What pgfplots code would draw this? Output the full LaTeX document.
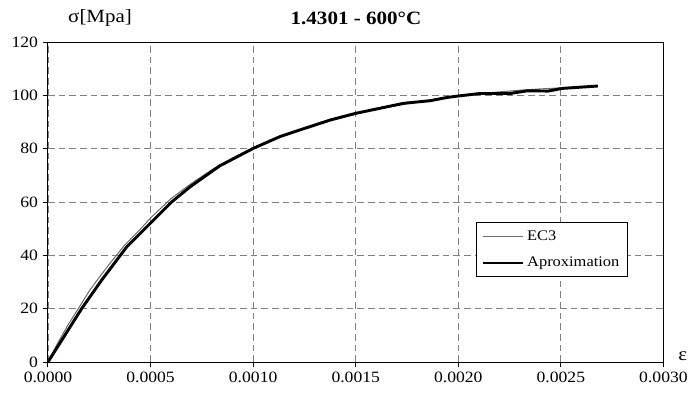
\documentclass[border=0pt]{standalone}
\usepackage{fontspec}
\setmainfont{Liberation Serif}[FakeStretch=1.12]
\usepackage{pgfplots}
\pgfplotsset{compat=1.18}
\begin{document}
\begin{tikzpicture}
\path[use as bounding box] (-36pt,-24pt) rectangle (481.5pt,271.5pt);
\begin{axis}[at={(0,0)}, anchor=south west, scale only axis,
  width=461.6pt, height=240pt,
  xmin=0, xmax=0.003, ymin=0, ymax=120,
  xtick={0,0.0005,0.001,0.0015,0.002,0.0025,0.003},
  xticklabels={0.0000,0.0005,0.0010,0.0015,0.0020,0.0025,0.0030},
  scaled x ticks=false,
  ytick={0,20,40,60,80,100,120},
  yticklabels={0,20,40,60,80,100,120},
  tick label style={font=\fontsize{11.8pt}{13pt}\selectfont},
  grid=major,
  major grid style={gray, dash pattern=on 5pt off 3pt, line width=0.6pt},
  axis line style={black, line width=0.75pt},
  tick style={black, line width=0.75pt},
  tick align=outside, major tick length=4pt,
  xtick pos=bottom, ytick pos=left,
  legend style={at={(0.695,0.4366)}, anchor=north west, draw=black, line width=0.75pt,
    font=\fontsize{11pt}{12pt}\selectfont, cells={anchor=west}, row sep=7pt,
    inner xsep=4pt, inner ysep=4pt},
  legend image code/.code={\draw[#1] (0pt,0pt) -- (30pt,0pt);},
]
\addplot[color={rgb,255:red,110;green,110;blue,110}, line width=0.8pt] coordinates {
(0,0) (0.00005,7.5) (0.0001,14.2) (0.000148,20) (0.0002,26.5) (0.00024,30.75)
(0.0003,36.8) (0.00037,43.5) (0.00045,49.8) (0.0005,54) (0.0006,61.3) (0.0007,67)
(0.0008,72.2) (0.0009,76.5) (0.0010,80.2) (0.0011,83.5) (0.0012,86.3) (0.0013,88.8)
(0.0014,91) (0.0015,93) (0.0016,94.7) (0.0017,96.2) (0.0018,97.5) (0.0019,98.7)
(0.0020,99.7) (0.0021,100.6) (0.0022,101.3) (0.0023,101.9) (0.0024,102.4)
(0.0025,102.8) (0.0026,103.2) (0.00268,103.5)
};
\addlegendentry{EC3}
\addplot[black, line width=2.2pt] coordinates {
(0,0) (0.000164,20) (0.000262,30.75) (0.000384,43.2) (0.000514,53.2) (0.000604,60.1)
(0.000693,65.7) (0.000836,73.5) (0.0010,80.1) (0.00113,84.5) (0.001227,87)
(0.001376,90.75) (0.0015,93.25) (0.001733,97) (0.001864,98) (0.001945,99.2)
(0.0020,99.75) (0.002107,100.7) (0.002253,100.7) (0.002336,101.7) (0.002438,101.6)
(0.002507,102.6) (0.00268,103.5)
};
\addlegendentry{Aproximation}
\end{axis}
\node[font=\bfseries\fontsize{14.1pt}{16pt}\selectfont] at (231pt,258pt) {1.4301 - 600°C};
\node[font=\fontsize{14pt}{16pt}\selectfont] at (39pt,258pt) {σ[Mpa]};
\node[font=\fontsize{14pt}{16pt}\selectfont] at (476pt,4pt) {ε};
\end{tikzpicture}
\end{document}
